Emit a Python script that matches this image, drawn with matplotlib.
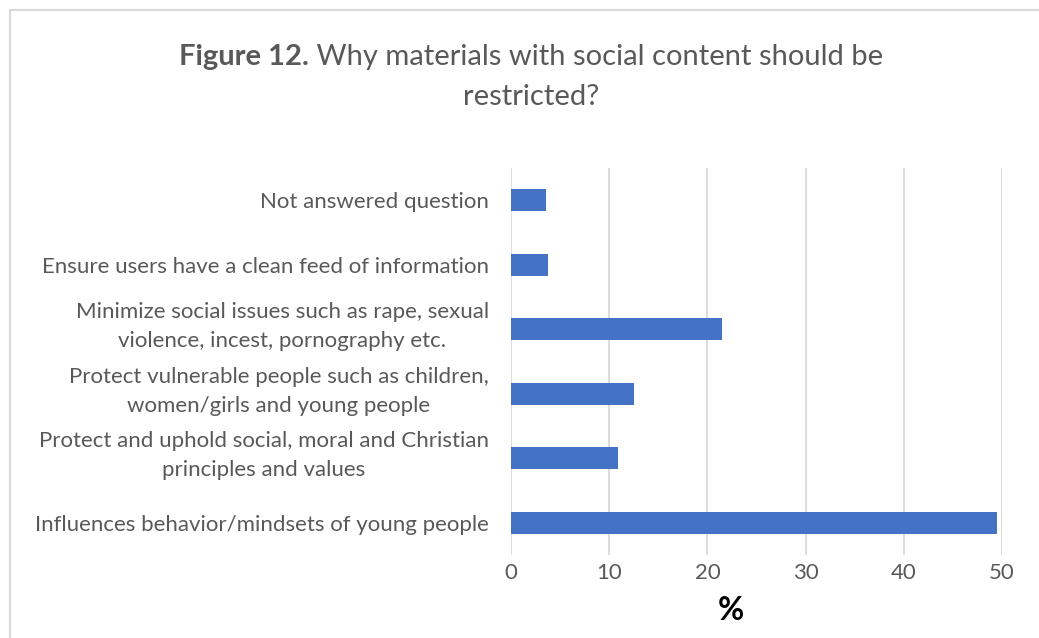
import matplotlib
matplotlib.use("agg")
import matplotlib.pyplot as plt
import matplotlib.transforms as mtransforms

plt.rcParams['font.family'] = ['Lato', 'DejaVu Sans']

# Reasons, listed bottom to top as they appear on the y axis
reasons = [
    "Influences behavior/mindsets of young people",
    "Protect and uphold social, moral and Christian\nprinciples and values",
    "Protect vulnerable people such as children,\nwomen/girls and young people",
    "Minimize social issues such as rape, sexual\nviolence, incest, pornography etc.",
    "Ensure users have a clean feed of information",
    "Not answered question",
]
percent = [49.5, 10.9, 12.5, 21.5, 3.8, 3.6]
xticks = [0, 10, 20, 30, 40, 50]

BAR = "#4472C4"
GRID = "#D9D9D9"
TXT = "#595959"

fig = plt.figure(figsize=(10.39, 6.38), dpi=100)
ax = fig.add_axes([511 / 1039, 1 - 555 / 638, (1002 - 511) / 1039, (555 - 168) / 638])

y = range(len(reasons))
ax.barh(y, percent, height=0.34, color=BAR, zorder=3)
ax.set_ylim(-0.5, len(reasons) - 0.5)
ax.set_xlim(0, 50)
ax.set_xticks(xticks)
ax.set_xticklabels([str(t) for t in xticks])
ax.set_yticks(list(y))
ax.set_yticklabels(reasons, multialignment="center", linespacing=1.55)
ax.tick_params(axis="both", length=0, colors=TXT, labelsize=16)
ax.tick_params(axis="x", pad=6)
ax.tick_params(axis="y", pad=16)
ax.grid(axis="x", color=GRID, linewidth=1.3, zorder=0)
for s in ax.spines.values():
    s.set_visible(False)

# wrapped labels sit slightly above their bar
lift = mtransforms.ScaledTranslation(0, 9 / 100, fig.dpi_scale_trans)
for lab in ax.get_yticklabels():
    if "\n" in lab.get_text():
        lab.set_transform(lab.get_transform() + lift)

fig.text(731 / 1039, 1 - 610 / 638, "%", fontsize=23, fontweight="bold",
         color="black", ha="center", va="center")

# outer chart border (top and left edges visible)
fig.add_artist(plt.Line2D([10 / 1039, 1.2], [1 - 10 / 638, 1 - 10 / 638],
                          transform=fig.transFigure, color=GRID, linewidth=1.5))
fig.add_artist(plt.Line2D([10 / 1039, 10 / 1039], [1 - 10 / 638, -0.2],
                          transform=fig.transFigure, color=GRID, linewidth=1.5))

# title: bold figure number followed by regular text, centred as a whole
fig.canvas.draw()
r = fig.canvas.get_renderer()
t1 = fig.text(0, 1 - 57 / 638, "Figure 12.", fontsize=21, fontweight="bold",
              color=TXT, va="center")
t2 = fig.text(0, 1 - 57 / 638, " Why materials with social content should be",
              fontsize=21, color=TXT, va="center")
w1 = t1.get_window_extent(r).width
w2 = t2.get_window_extent(r).width
x0 = 531 - (w1 + w2) / 2
t1.set_x(x0 / 1039)
t2.set_x((x0 + w1) / 1039)
fig.text(531 / 1039, 1 - 97 / 638, "restricted?", fontsize=21, color=TXT,
         ha="center", va="center")

fig.savefig("out.png", dpi=100)
